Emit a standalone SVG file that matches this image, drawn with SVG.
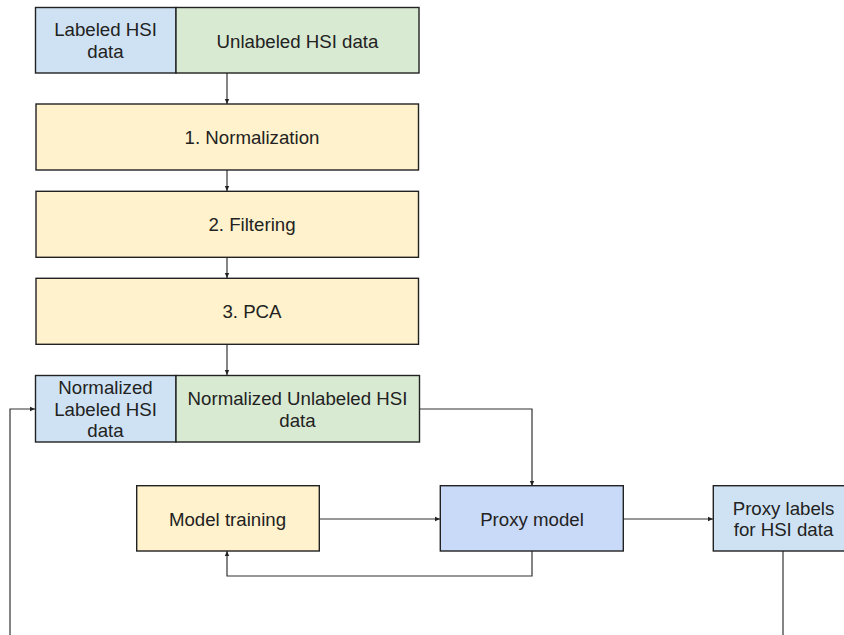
<svg xmlns="http://www.w3.org/2000/svg" width="844" height="635" viewBox="0 0 844 635">
<defs>
<marker id="arr" markerUnits="userSpaceOnUse" markerWidth="6" markerHeight="6" refX="5" refY="3" orient="auto">
<path d="M0,0.8 L5,3 L0,5.2 Z" fill="#222"/>
</marker>
<style>
.box{stroke:#222;stroke-width:1.4}
.blue{fill:#cfe2f3}
.green{fill:#d9ead3}
.yellow{fill:#fff2cc}
.pm{fill:#c9daf8}
.t{font-family:"Liberation Sans",Arial,sans-serif;font-size:18.67px;fill:#222;text-anchor:middle}
.c{fill:none;stroke:#333;stroke-width:1.2}
</style>
</defs>
<rect width="844" height="635" fill="#fff"/>
<g id="connectors">
<path class="c" d="M227,73 V104" marker-end="url(#arr)"/>
<path class="c" d="M227,170 V191" marker-end="url(#arr)"/>
<path class="c" d="M227,257 V278" marker-end="url(#arr)"/>
<path class="c" d="M227,344 V375" marker-end="url(#arr)"/>
<path class="c" d="M420,409 H532 V486" marker-end="url(#arr)"/>
<path class="c" d="M319,519 H440" marker-end="url(#arr)"/>
<path class="c" d="M623,519 H713" marker-end="url(#arr)"/>
<path class="c" d="M532,551 V576 H227 V551" marker-end="url(#arr)"/>
<path class="c" d="M783,551 V640"/>
<path class="c" d="M10,640 V409 H35" marker-end="url(#arr)"/>
</g>
<g id="labeled-hsi">
<rect class="box blue" x="35.5" y="7.5" width="140.5" height="65.5"/>
<text class="t" x="105.5" y="36">Labeled HSI</text>
<text class="t" x="105.5" y="57.5">data</text>
</g>
<g id="unlabeled-hsi">
<rect class="box green" x="176" y="7.5" width="243" height="65.5"/>
<text class="t" x="297.5" y="47.5">Unlabeled HSI data</text>
</g>
<g id="normalization">
<rect class="box yellow" x="36" y="104" width="382.5" height="66"/>
<text class="t" x="252" y="144">1. Normalization</text>
</g>
<g id="filtering">
<rect class="box yellow" x="36" y="191.3" width="382.5" height="66"/>
<text class="t" x="252" y="231">2. Filtering</text>
</g>
<g id="pca">
<rect class="box yellow" x="36" y="278.3" width="382.5" height="66"/>
<text class="t" x="252" y="318">3. PCA</text>
</g>
<g id="norm-labeled">
<rect class="box blue" x="35.5" y="375.5" width="140.5" height="66.5"/>
<text class="t" x="105.5" y="394">Normalized</text>
<text class="t" x="105.5" y="415.5">Labeled HSI</text>
<text class="t" x="105.5" y="437">data</text>
</g>
<g id="norm-unlabeled">
<rect class="box green" x="176" y="375.5" width="243.5" height="66.5"/>
<text class="t" x="297.5" y="405">Normalized Unlabeled HSI</text>
<text class="t" x="297.5" y="426.5">data</text>
</g>
<g id="model-training">
<rect class="box yellow" x="136.7" y="485.7" width="182.6" height="65.3"/>
<text class="t" x="227.5" y="525.5">Model training</text>
</g>
<g id="proxy-model">
<rect class="box pm" x="440.3" y="485.7" width="183" height="65.3"/>
<text class="t" x="532" y="525.5">Proxy model</text>
</g>
<g id="proxy-labels">
<rect class="box blue" x="713.3" y="485.7" width="140" height="65.3"/>
<text class="t" x="783.5" y="514.5">Proxy labels</text>
<text class="t" x="783.5" y="536">for HSI data</text>
</g>
</svg>
